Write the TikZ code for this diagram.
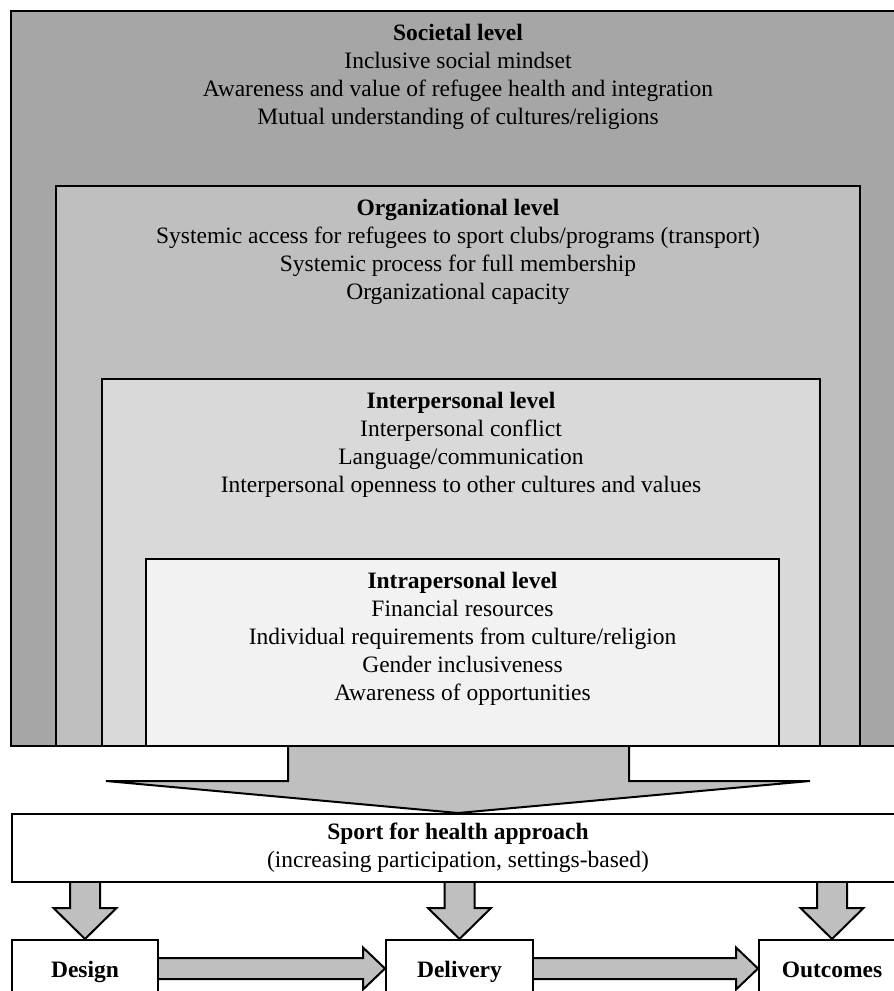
\documentclass[tikz,border=0pt]{standalone}
\usepackage{fontspec}
\setmainfont{Liberation Serif}
\usetikzlibrary{calc}
\definecolor{gsoc}{HTML}{A6A6A6}
\definecolor{gorg}{HTML}{BFBFBF}
\definecolor{gint}{HTML}{D9D9D9}
\definecolor{gtra}{HTML}{F2F2F2}
\definecolor{garr}{HTML}{BFBFBF}
\tikzset{
 lvlbox/.style={draw=black, line width=2pt, rectangle, anchor=north west, inner sep=0pt},
 lvltext/.style={anchor=north, align=center, inner sep=0pt, font=\fontsize{23.5}{28}\selectfont},
 blockarrow/.style={draw=black, line width=2pt, fill=garr, line join=miter},
 plainbox/.style={draw=black, line width=2pt, fill=white, rectangle, anchor=north west, inner sep=0pt},
 boxlabel/.style={anchor=base, inner sep=0pt, font=\fontsize{23.5}{28}\selectfont\bfseries},
 sublabel/.style={anchor=base, inner sep=0pt, font=\fontsize{23.5}{28}\selectfont},
}
\newcommand{\vblockarrow}[2]{%
 \coordinate (vs#2) at (#1.south -| #2.north);
 \draw[blockarrow] ($(vs#2)+(-15,0)$) -- ($(#2.north)+(-15,-31)$) -- ($(#2.north)+(-31.5,-31)$) -- (#2.north)
   -- ($(#2.north)+(31.5,-31)$) -- ($(#2.north)+(15,-31)$) -- ($(vs#2)+(15,0)$);}
\newcommand{\hblockarrow}[2]{%
 \coordinate (hs#1) at ($(#1.north east)+(0,29.5)$);
 \coordinate (he#1) at ($(#2.north west)+(0,29.5)$);
 \draw[blockarrow] ($(hs#1)+(0,-10.5)$) -- ($(he#1)+(-22,-10.5)$) -- ($(he#1)+(-22,-21)$) -- (he#1)
   -- ($(he#1)+(-22,21)$) -- ($(he#1)+(-22,10.5)$) -- ($(hs#1)+(0,10.5)$);}
\begin{document}
\begin{tikzpicture}[x=1pt,y=-1pt]
\useasboundingbox (0,0) rectangle (894,991);
\clip (0,0) rectangle (894,991);
\fill[white] (0,0) rectangle (894,991);
% level boxes
\node[lvlbox, fill=gsoc, minimum width=894pt, minimum height=735pt] (soc) at (10,10) {};
\node[lvlbox, fill=gorg, minimum width=804pt, minimum height=560pt] (org) at (55,185) {};
\node[lvlbox, fill=gint, minimum width=718pt, minimum height=367pt] (int) at (101,378) {};
\node[lvlbox, fill=gtra, minimum width=633pt, minimum height=187pt] (tra) at (145,558) {};
\node[lvltext] (soct) at ($(soc.north)+(0,13.5)$) {\textbf{Societal level}\\Inclusive social mindset\\Awareness and value of refugee health and integration\\Mutual understanding of cultures/religions};
\node[lvltext] (orgt) at ($(org.north)+(0,13.5)$) {\textbf{Organizational level}\\Systemic access for refugees to sport clubs/programs (transport)\\Systemic process for full membership\\Organizational capacity};
\node[lvltext] (intt) at ($(int.north)+(0,13.5)$) {\textbf{Interpersonal level}\\Interpersonal conflict\\Language/communication\\Interpersonal openness to other cultures and values};
\node[lvltext] (trat) at ($(tra.north)+(0,13.5)$) {\textbf{Intrapersonal level}\\Financial resources\\Individual requirements from culture/religion\\Gender inclusiveness\\Awareness of opportunities};
% sport box
\node[plainbox, minimum width=892pt, minimum height=68pt] (sport) at (11,813) {};
\node[boxlabel] (sportt) at ($(sport.north)+(0,26)$) {Sport for health approach};
\node[sublabel] (sports) at ($(sport.north)+(0,54)$) {(increasing participation, settings-based)};
% big arrow
\draw[blockarrow] ($(soc.south)+(-170,0)$) -- ($(soc.south)+(-170,34)$) -- ($(soc.south)+(-352,34)$) -- (sport.north)
  -- ($(soc.south)+(352,34)$) -- ($(soc.south)+(171,34)$) -- ($(soc.south)+(171,0)$);
% bottom boxes
\node[plainbox, minimum width=146pt, minimum height=70pt] (design) at (11,939) {};
\node[plainbox, minimum width=147pt, minimum height=70pt] (delivery) at (385,939) {};
\node[plainbox, minimum width=146pt, minimum height=70pt] (outcomes) at (758,939) {};
\node[boxlabel] (designt) at ($(design.north)+(0,38)$) {Design};
\node[boxlabel] (deliveryt) at ($(delivery.north)+(0,38)$) {Delivery};
\node[boxlabel] (outcomest) at ($(outcomes.north)+(0,38)$) {Outcomes};
% arrows
\vblockarrow{sport}{design}
\vblockarrow{sport}{delivery}
\vblockarrow{sport}{outcomes}
\hblockarrow{design}{delivery}
\hblockarrow{delivery}{outcomes}
\end{tikzpicture}
\end{document}
